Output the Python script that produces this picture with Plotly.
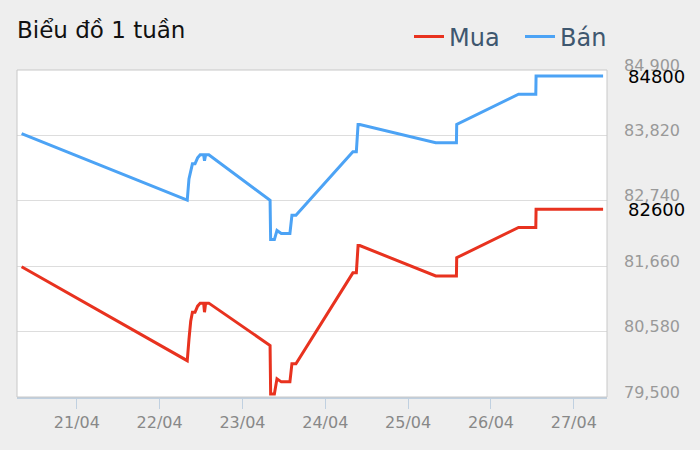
import plotly.graph_objects as go

# ---- data ----
times = [
    "2024-04-20 08:00",
    "2024-04-22 08:00", "2024-04-22 08:30", "2024-04-22 09:00", "2024-04-22 09:30",
    "2024-04-22 10:15", "2024-04-22 11:00", "2024-04-22 11:45", "2024-04-22 12:45",
    "2024-04-22 13:00", "2024-04-22 13:20", "2024-04-22 14:15",
    "2024-04-23 08:00", "2024-04-23 08:10", "2024-04-23 09:15", "2024-04-23 10:00",
    "2024-04-23 11:15", "2024-04-23 13:45", "2024-04-23 14:20", "2024-04-23 15:30",
    "2024-04-24 08:00", "2024-04-24 09:00", "2024-04-24 09:30", "2024-04-24 10:00",
    "2024-04-25 08:00", "2024-04-25 14:00", "2024-04-25 14:05",
    "2024-04-26 08:00", "2024-04-26 13:00", "2024-04-26 13:05",
    "2024-04-27 08:30",
]
ban = [
    83850,
    82750, 83100, 83250, 83350,
    83350, 83450, 83500, 83500,
    83400, 83500, 83500,
    82750, 82100, 82100, 82250,
    82200, 82200, 82500, 82500,
    83550, 83550, 84000, 84000,
    83700, 83700, 84000,
    84500, 84500, 84800,
    84800,
]
mua = [
    81650,
    80100, 80450, 80750, 80900,
    80900, 81000, 81050, 81050,
    80900, 81050, 81050,
    80350, 79550, 79550, 79800,
    79750, 79750, 80050, 80050,
    81550, 81550, 82000, 82000,
    81500, 81500, 81800,
    82300, 82300, 82600,
    82600,
]
y_ticks = [79500, 80580, 81660, 82740, 83820, 84900]
x_ticks = ["2024-04-21", "2024-04-22", "2024-04-23", "2024-04-24",
           "2024-04-25", "2024-04-26", "2024-04-27"]
x_tick_labels = ["21/04", "22/04", "23/04", "24/04", "25/04", "26/04", "27/04"]
last_labels = [str(mua[-1]), str(ban[-1])]

RED = "#e8321f"
BLUE = "#4ca3f5"
FONT = "DejaVu Sans"

fig = go.Figure()
fig.add_trace(go.Scatter(x=times, y=mua, mode="lines", name="Mua",
                         line=dict(color=RED, width=3), hoverinfo="skip"))
fig.add_trace(go.Scatter(x=times, y=ban, mode="lines", name="Bán",
                         line=dict(color=BLUE, width=3), hoverinfo="skip"))

for val, txt in zip([mua[-1], ban[-1]], last_labels):
    fig.add_annotation(xref="paper", yref="y", x=1, y=val, text=txt,
                       showarrow=False, xanchor="left", yanchor="middle",
                       xshift=19, font=dict(family=FONT, size=18, color="#000"))

fig.add_shape(type="rect", xref="paper", yref="paper", x0=0, x1=1, y0=0, y1=1,
              line=dict(color="#c8c8c8", width=1), layer="above")

fig.update_layout(
    width=700, height=450,
    margin=dict(l=17, r=93, t=70, b=53, autoexpand=False),
    paper_bgcolor="#eeeeee",
    plot_bgcolor="#ffffff",
    font=dict(family=FONT),
    title=dict(text="Biểu đồ 1 tuần", xref="container", x=17/700, xanchor="left",
               yref="container", y=1-30/450, yanchor="middle",
               font=dict(family=FONT, size=23, color="#111")),
    showlegend=True,
    legend=dict(orientation="h", xref="container", x=409/700, xanchor="left",
                yref="container", y=1 - 37/450, yanchor="middle",
                entrywidth=66, entrywidthmode="pixels",
                font=dict(family=FONT, size=24, color="#3e576f"),
                bgcolor="rgba(0,0,0,0)", itemwidth=30, traceorder="normal"),
    xaxis=dict(
        type="date", automargin=False,
        range=["2024-04-20 06:40", "2024-04-27 09:38"],
        tickvals=x_ticks, ticktext=x_tick_labels,
        showgrid=False, zeroline=False,
        showline=True, linecolor="#c0d0e0", linewidth=2,
        ticks="outside", ticklen=10, tickcolor="#c0d0e0", tickwidth=1,
        tickfont=dict(family=FONT, size=16, color="#888"),
    ),
    yaxis=dict(
        side="right", automargin=False,
        range=[79500, 84900],
        tickvals=y_ticks, tickformat=",d",
        showgrid=True, gridcolor="#dddddd", gridwidth=1,
        zeroline=False, showline=False,
        ticklabelstandoff=16, ticklabelshift=-5,
        tickfont=dict(family=FONT, size=16, color="#999"),
    ),
)

fig.write_html("out.html", config={"displayModeBar": False},
               post_script="document.body.style.margin='0';")
